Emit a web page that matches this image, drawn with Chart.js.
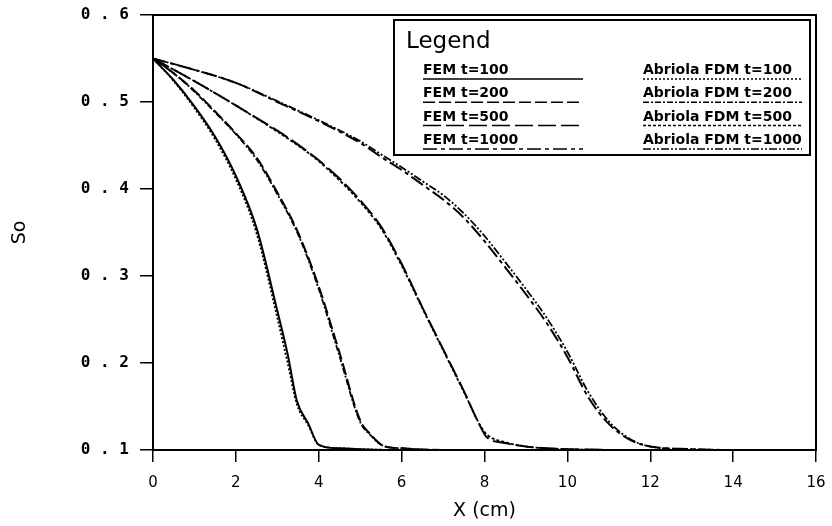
<!DOCTYPE html>
<html>
<head>
<meta charset="utf-8">
<script src="https://cdn.jsdelivr.net/npm/chart.js@4.4.1/dist/chart.umd.min.js"></script>
<style>
  html, body { margin: 0; padding: 0; background: #fff; }
</style>
</head>
<body>
<canvas id="so-chart" width="832" height="526"></canvas>
<script>
"use strict";

// Distance along the column (cm) for each time step
const x100 = [0, 0.5, 1, 1.5, 2, 2.5, 3, 3.25, 3.47, 3.75, 4, 4.5, 5, 6, 8, 10, 12, 14, 16];
const x200 = [0, 0.5, 1, 1.5, 2, 2.5, 3, 3.5, 4, 4.5, 5, 5.25, 5.55, 6, 7, 8, 10, 12, 14, 16];
const x500 = [0, 1, 2, 3, 3.5, 4, 4.5, 5, 5.5, 6, 6.5, 7, 7.5, 7.9, 8.05, 8.5, 9, 10, 12, 14, 16];
const x1000 = [0, 1, 2, 3, 4, 5, 5.5, 6, 6.5, 7, 7.5, 8, 8.5, 9, 9.5, 10, 10.5, 11, 11.5, 12, 13, 14, 16];

// Oil saturation So, FEM solution
const femT100 = [0.55, 0.525, 0.495, 0.46, 0.415, 0.355, 0.26, 0.21, 0.157, 0.13, 0.106, 0.102, 0.101, 0.1, 0.1, 0.1, 0.1, 0.1, 0.1];
const femT200 = [0.55, 0.533, 0.513, 0.489, 0.464, 0.436, 0.396, 0.35, 0.288, 0.212, 0.134, 0.118, 0.105, 0.102, 0.1, 0.1, 0.1, 0.1, 0.1, 0.1];
const femT500 = [0.55, 0.524, 0.496, 0.467, 0.451, 0.433, 0.412, 0.387, 0.357, 0.314, 0.264, 0.216, 0.168, 0.127, 0.115, 0.108, 0.104, 0.101, 0.1, 0.1, 0.1];
const femT1000 = [0.55, 0.537, 0.522, 0.5, 0.478, 0.453, 0.437, 0.422, 0.405, 0.388, 0.367, 0.34, 0.31, 0.279, 0.246, 0.207, 0.161, 0.13, 0.112, 0.104, 0.101, 0.1, 0.1];

// Oil saturation So, Abriola FDM solution
const fdmT100 = [0.55, 0.524, 0.493, 0.457, 0.411, 0.349, 0.252, 0.2, 0.153, 0.128, 0.106, 0.102, 0.101, 0.1, 0.1, 0.1, 0.1, 0.1, 0.1];
const fdmT200 = [0.55, 0.533, 0.512, 0.488, 0.463, 0.434, 0.394, 0.348, 0.285, 0.208, 0.132, 0.117, 0.105, 0.102, 0.1, 0.1, 0.1, 0.1, 0.1, 0.1];
const fdmT500 = [0.55, 0.524, 0.496, 0.466, 0.45, 0.432, 0.41, 0.385, 0.355, 0.312, 0.263, 0.215, 0.167, 0.128, 0.118, 0.109, 0.104, 0.101, 0.1, 0.1, 0.1];
const fdmT1000 = [0.55, 0.537, 0.522, 0.501, 0.479, 0.455, 0.44, 0.425, 0.409, 0.393, 0.372, 0.346, 0.316, 0.285, 0.252, 0.213, 0.167, 0.133, 0.113, 0.104, 0.101, 0.1, 0.1];

const pts = (xs, ys) => xs.map((x, i) => ({ x: x, y: ys[i] }));

function line(label, xs, ys, dash, width) {
    return {
        label: label,
        data: pts(xs, ys),
        borderColor: '#000',
        borderWidth: width,
        borderDash: dash,
        pointRadius: 0,
        fill: false,
        cubicInterpolationMode: 'monotone'
    };
}

// Boxed legend inside the plot, two columns (FEM left, FDM right)
const boxLegend = {
    id: 'boxLegend',
    afterDraw(chart) {
        const ctx = chart.ctx;
        ctx.save();
        ctx.fillStyle = '#fff';
        ctx.fillRect(394, 20, 416, 135);
        ctx.strokeStyle = '#000';
        ctx.lineWidth = 2;
        ctx.setLineDash([]);
        ctx.strokeRect(394, 20, 416, 135);
        ctx.fillStyle = '#000';
        ctx.textBaseline = 'alphabetic';
        ctx.font = '23px "DejaVu Sans"';
        ctx.fillText('Legend', 406, 48);
        ctx.font = 'bold 14px "DejaVu Sans"';
        chart.data.datasets.forEach((ds, i) => {
            const right = i >= 4;
            const x0 = right ? 643 : 423;
            const x1 = right ? 802 : 583;
            const base = 74 + (i % 4) * 23.3;
            ctx.fillText(ds.label, x0, base);
            ctx.lineWidth = 1.5;
            ctx.setLineDash(ds.borderDash || []);
            ctx.beginPath();
            ctx.moveTo(x0, base + 5);
            ctx.lineTo(x1, base + 5);
            ctx.stroke();
        });
        ctx.restore();
    }
};

// Full frame round the plot area
const frame = {
    id: 'frame',
    afterDatasetsDraw(chart) {
        const a = chart.chartArea;
        const ctx = chart.ctx;
        ctx.save();
        ctx.strokeStyle = '#000';
        ctx.lineWidth = 2;
        ctx.strokeRect(a.left, a.top, a.right - a.left, a.bottom - a.top);
        ctx.restore();
    }
};

new Chart(document.getElementById('so-chart'), {
    type: 'line',
    data: {
        datasets: [
            line('FEM t=100', x100, femT100, [], 2),
            line('FEM t=200', x200, femT200, [12, 4], 2),
            line('FEM t=500', x500, femT500, [18, 5], 2),
            line('FEM t=1000', x1000, femT1000, [14, 4, 4, 4], 2),
            line('Abriola FDM t=100', x100, fdmT100, [2, 2], 1.8),
            line('Abriola FDM t=200', x200, fdmT200, [6, 2, 2, 2], 1.8),
            line('Abriola FDM t=500', x500, fdmT500, [3, 2], 1.8),
            line('Abriola FDM t=1000', x1000, fdmT1000, [8, 2, 2, 2, 2, 2], 1.8)
        ]
    },
    options: {
        responsive: false,
        animation: false,
        devicePixelRatio: 1,
        layout: { padding: { top: 15, right: 16, left: 0, bottom: 0 } },
        plugins: {
            legend: { display: false },
            tooltip: { enabled: false }
        },
        scales: {
            x: {
                type: 'linear',
                min: 0,
                max: 16,
                ticks: {
                    stepSize: 2,
                    color: '#000',
                    padding: 12,
                    font: { family: 'DejaVu Sans', size: 15 }
                },
                grid: { drawOnChartArea: false, tickLength: 12, color: '#000', lineWidth: 1.5 },
                border: { color: '#000', width: 2 },
                title: {
                    display: true,
                    text: 'X (cm)',
                    color: '#000',
                    padding: { bottom: 4 },
                    font: { family: 'DejaVu Sans', size: 19 }
                },
                afterFit(scale) {
                    scale.height = 76;
                    scale.paddingLeft = 0;
                    scale.paddingRight = 0;
                }
            },
            y: {
                min: 0.1,
                max: 0.6,
                ticks: {
                    stepSize: 0.1,
                    color: '#000',
                    padding: 11,
                    font: { family: 'DejaVu Sans Mono', size: 16, weight: 'bold' },
                    callback: v => v.toFixed(1).split('').join(' ')
                },
                grid: { drawOnChartArea: false, tickLength: 13, color: '#000', lineWidth: 1.5 },
                border: { color: '#000', width: 2 },
                title: {
                    display: true,
                    text: 'So',
                    color: '#000',
                    padding: { top: 9 },
                    font: { family: 'DejaVu Sans', size: 19 }
                },
                afterFit(scale) {
                    scale.width = 153;
                    scale.paddingTop = 0;
                    scale.paddingBottom = 0;
                }
            }
        }
    },
    plugins: [frame, boxLegend]
});
</script>
</body>
</html>
